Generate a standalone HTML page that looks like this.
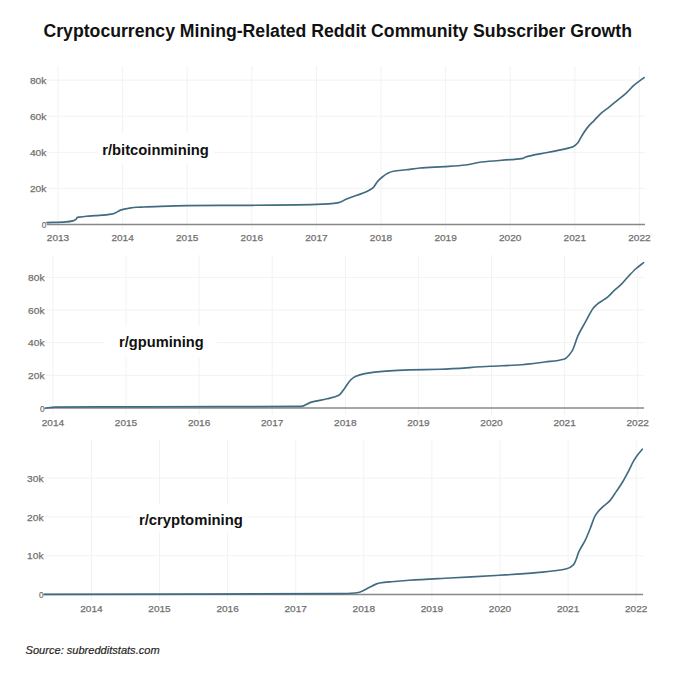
<!DOCTYPE html>
<html><head><meta charset="utf-8"><style>
html,body{margin:0;padding:0;background:#fff;width:680px;height:681px;overflow:hidden}
svg{display:block}
text{font-family:"Liberation Sans",sans-serif}
.title{font-size:17.5px;font-weight:bold;fill:#111}
.tk{font-size:9.6px;fill:#707070;stroke:#707070;stroke-width:0.25px}
.lab{font-weight:bold;fill:#111}
.src{font-size:11.5px;font-style:italic;fill:#262626;stroke:#262626;stroke-width:0.2px}
</style></head><body>
<svg width="680" height="681" viewBox="0 0 680 681">
<rect width="680" height="681" fill="#fff"/>
<text x="43.5" y="36.8" class="title" textLength="588.5" lengthAdjust="spacingAndGlyphs">Cryptocurrency Mining-Related Reddit Community Subscriber Growth</text>
<line x1="58.0" y1="66" x2="58.0" y2="229.5" stroke="#f2f2f2" stroke-width="1"/>
<line x1="122.6" y1="66" x2="122.6" y2="229.5" stroke="#f2f2f2" stroke-width="1"/>
<line x1="187.2" y1="66" x2="187.2" y2="229.5" stroke="#f2f2f2" stroke-width="1"/>
<line x1="251.8" y1="66" x2="251.8" y2="229.5" stroke="#f2f2f2" stroke-width="1"/>
<line x1="316.4" y1="66" x2="316.4" y2="229.5" stroke="#f2f2f2" stroke-width="1"/>
<line x1="381.0" y1="66" x2="381.0" y2="229.5" stroke="#f2f2f2" stroke-width="1"/>
<line x1="445.6" y1="66" x2="445.6" y2="229.5" stroke="#f2f2f2" stroke-width="1"/>
<line x1="510.2" y1="66" x2="510.2" y2="229.5" stroke="#f2f2f2" stroke-width="1"/>
<line x1="574.8" y1="66" x2="574.8" y2="229.5" stroke="#f2f2f2" stroke-width="1"/>
<line x1="639.4" y1="66" x2="639.4" y2="229.5" stroke="#f2f2f2" stroke-width="1"/>
<line x1="47" y1="188.4" x2="645" y2="188.4" stroke="#f2f2f2" stroke-width="1"/>
<line x1="47" y1="152.3" x2="645" y2="152.3" stroke="#f2f2f2" stroke-width="1"/>
<line x1="47" y1="116.2" x2="645" y2="116.2" stroke="#f2f2f2" stroke-width="1"/>
<line x1="47" y1="80.1" x2="645" y2="80.1" stroke="#f2f2f2" stroke-width="1"/>
<rect x="96.5" y="133" width="117.5" height="30.5" fill="#fff"/>
<line x1="47" y1="224.5" x2="645" y2="224.5" stroke="#888" stroke-width="1.3"/>
<path d="M47.00,222.60 C53.33,222.37 59.67,222.31 66.00,221.90 C68.30,221.75 70.60,221.46 72.90,220.90 C73.90,220.66 74.90,220.21 75.90,219.40 C76.30,219.08 76.70,217.76 77.10,217.60 C77.87,217.28 78.63,217.23 79.40,217.10 C81.77,216.70 84.13,216.41 86.50,216.20 C89.50,215.93 92.50,215.83 95.50,215.60 C100.87,215.19 106.23,214.98 111.60,214.10 C113.07,213.86 114.53,213.22 116.00,212.60 C117.50,211.97 119.00,210.59 120.50,210.10 C122.93,209.31 125.37,208.93 127.80,208.50 C130.73,207.98 133.67,207.33 136.60,207.20 C139.07,207.09 141.53,207.07 144.00,207.00 C158.33,206.59 172.67,205.72 187.00,205.60 C208.60,205.42 230.20,205.45 251.80,205.30 C273.47,205.15 295.13,204.98 316.80,204.40 C324.13,204.20 331.47,203.75 338.80,202.60 C341.20,202.22 343.60,200.33 346.00,199.30 C353.60,196.05 361.20,194.29 368.80,190.40 C370.27,189.65 371.73,188.89 373.20,187.60 C374.67,186.31 376.13,183.05 377.60,181.40 C379.37,179.41 381.13,177.88 382.90,176.50 C384.67,175.12 386.43,173.67 388.20,172.90 C389.97,172.13 391.73,171.52 393.50,171.20 C397.63,170.46 401.77,170.29 405.90,169.80 C410.60,169.24 415.30,168.39 420.00,168.00 C428.13,167.33 436.27,167.13 444.40,166.60 C451.47,166.14 458.53,165.78 465.60,165.00 C470.90,164.42 476.20,162.63 481.50,162.00 C491.20,160.84 500.90,160.47 510.60,159.60 C514.73,159.23 518.87,159.22 523.00,158.40 C523.67,158.27 524.33,157.53 525.00,157.30 C532.53,154.67 540.07,154.11 547.60,152.50 C554.77,150.97 561.93,149.82 569.10,147.90 C570.57,147.51 572.03,147.18 573.50,146.50 C574.97,145.82 576.43,144.49 577.90,142.80 C579.13,141.38 580.37,138.20 581.60,136.20 C583.80,132.64 586.00,129.22 588.20,126.60 C590.17,124.25 592.13,122.64 594.10,120.60 C596.30,118.32 598.50,115.58 600.70,113.60 C603.40,111.16 606.10,109.45 608.80,107.30 C611.73,104.96 614.67,102.50 617.60,100.10 C620.57,97.67 623.53,95.50 626.50,92.80 C628.93,90.59 631.37,87.53 633.80,85.40 C637.23,82.40 640.67,80.20 644.10,77.60" fill="none" stroke="#416b80" stroke-width="1.65" stroke-linejoin="round" stroke-linecap="round"/>
<text x="46.3" y="228.1" text-anchor="end" class="tk" textLength="4.6" lengthAdjust="spacingAndGlyphs">0</text>
<text x="46.3" y="192.0" text-anchor="end" class="tk" textLength="16.4" lengthAdjust="spacingAndGlyphs">20k</text>
<text x="46.3" y="155.9" text-anchor="end" class="tk" textLength="16.4" lengthAdjust="spacingAndGlyphs">40k</text>
<text x="46.3" y="119.8" text-anchor="end" class="tk" textLength="16.4" lengthAdjust="spacingAndGlyphs">60k</text>
<text x="46.3" y="83.7" text-anchor="end" class="tk" textLength="16.4" lengthAdjust="spacingAndGlyphs">80k</text>
<text x="58.0" y="240.5" text-anchor="middle" class="tk" textLength="22.4" lengthAdjust="spacingAndGlyphs">2013</text>
<text x="122.6" y="240.5" text-anchor="middle" class="tk" textLength="22.4" lengthAdjust="spacingAndGlyphs">2014</text>
<text x="187.2" y="240.5" text-anchor="middle" class="tk" textLength="22.4" lengthAdjust="spacingAndGlyphs">2015</text>
<text x="251.8" y="240.5" text-anchor="middle" class="tk" textLength="22.4" lengthAdjust="spacingAndGlyphs">2016</text>
<text x="316.4" y="240.5" text-anchor="middle" class="tk" textLength="22.4" lengthAdjust="spacingAndGlyphs">2017</text>
<text x="381.0" y="240.5" text-anchor="middle" class="tk" textLength="22.4" lengthAdjust="spacingAndGlyphs">2018</text>
<text x="445.6" y="240.5" text-anchor="middle" class="tk" textLength="22.4" lengthAdjust="spacingAndGlyphs">2019</text>
<text x="510.2" y="240.5" text-anchor="middle" class="tk" textLength="22.4" lengthAdjust="spacingAndGlyphs">2020</text>
<text x="574.8" y="240.5" text-anchor="middle" class="tk" textLength="22.4" lengthAdjust="spacingAndGlyphs">2021</text>
<text x="639.4" y="240.5" text-anchor="middle" class="tk" textLength="22.4" lengthAdjust="spacingAndGlyphs">2022</text>
<text x="102.2" y="155.4" class="lab" textLength="106.6" lengthAdjust="spacingAndGlyphs" style="font-size:15px">r/bitcoinmining</text>
<line x1="52.9" y1="255" x2="52.9" y2="415" stroke="#f2f2f2" stroke-width="1"/>
<line x1="126.0" y1="255" x2="126.0" y2="415" stroke="#f2f2f2" stroke-width="1"/>
<line x1="199.1" y1="255" x2="199.1" y2="415" stroke="#f2f2f2" stroke-width="1"/>
<line x1="272.2" y1="255" x2="272.2" y2="415" stroke="#f2f2f2" stroke-width="1"/>
<line x1="345.3" y1="255" x2="345.3" y2="415" stroke="#f2f2f2" stroke-width="1"/>
<line x1="418.4" y1="255" x2="418.4" y2="415" stroke="#f2f2f2" stroke-width="1"/>
<line x1="491.5" y1="255" x2="491.5" y2="415" stroke="#f2f2f2" stroke-width="1"/>
<line x1="564.6" y1="255" x2="564.6" y2="415" stroke="#f2f2f2" stroke-width="1"/>
<line x1="637.7" y1="255" x2="637.7" y2="415" stroke="#f2f2f2" stroke-width="1"/>
<line x1="45.5" y1="375.3" x2="644" y2="375.3" stroke="#f2f2f2" stroke-width="1"/>
<line x1="45.5" y1="342.7" x2="644" y2="342.7" stroke="#f2f2f2" stroke-width="1"/>
<line x1="45.5" y1="310.0" x2="644" y2="310.0" stroke="#f2f2f2" stroke-width="1"/>
<line x1="45.5" y1="277.3" x2="644" y2="277.3" stroke="#f2f2f2" stroke-width="1"/>
<rect x="104.3" y="326.3" width="112.2" height="30.9" fill="#fff"/>
<line x1="45.5" y1="408.0" x2="644" y2="408.0" stroke="#888" stroke-width="1.3"/>
<path d="M45.10,408.20 C48.30,407.83 51.50,407.13 54.70,407.10 C83.13,406.84 111.57,406.88 140.00,406.80 C193.73,406.64 247.47,406.78 301.20,406.40 C304.33,406.38 307.47,403.33 310.60,402.40 C316.10,400.77 321.60,400.20 327.10,398.80 C331.00,397.81 334.90,397.30 338.80,395.30 C340.77,394.29 342.73,390.74 344.70,388.20 C346.67,385.66 348.63,381.89 350.60,380.00 C352.17,378.50 353.73,377.22 355.30,376.50 C358.43,375.07 361.57,374.17 364.70,373.60 C371.77,372.32 378.83,371.61 385.90,371.10 C393.73,370.54 401.57,370.14 409.40,369.90 C419.60,369.59 429.80,369.56 440.00,369.25 C456.67,368.75 473.33,367.10 490.00,366.25 C499.17,365.78 508.33,365.59 517.50,365.00 C526.67,364.41 535.83,363.15 545.00,362.00 C551.27,361.22 557.53,361.04 563.80,359.30 C566.53,358.54 569.27,355.14 572.00,351.10 C573.97,348.19 575.93,340.05 577.90,335.80 C580.47,330.25 583.03,326.33 585.60,321.70 C588.13,317.13 590.67,311.35 593.20,308.20 C594.57,306.50 595.93,305.21 597.30,304.10 C599.67,302.18 602.03,301.07 604.40,299.40 C605.57,298.58 606.73,297.78 607.90,296.80 C609.97,295.06 612.03,292.53 614.10,290.60 C616.47,288.39 618.83,286.73 621.20,284.40 C623.53,282.10 625.87,278.98 628.20,276.50 C630.87,273.67 633.53,270.84 636.20,268.50 C638.67,266.34 641.13,264.63 643.60,262.70" fill="none" stroke="#416b80" stroke-width="1.65" stroke-linejoin="round" stroke-linecap="round"/>
<text x="44.5" y="411.6" text-anchor="end" class="tk" textLength="4.6" lengthAdjust="spacingAndGlyphs">0</text>
<text x="44.5" y="378.9" text-anchor="end" class="tk" textLength="16.4" lengthAdjust="spacingAndGlyphs">20k</text>
<text x="44.5" y="346.3" text-anchor="end" class="tk" textLength="16.4" lengthAdjust="spacingAndGlyphs">40k</text>
<text x="44.5" y="313.6" text-anchor="end" class="tk" textLength="16.4" lengthAdjust="spacingAndGlyphs">60k</text>
<text x="44.5" y="280.9" text-anchor="end" class="tk" textLength="16.4" lengthAdjust="spacingAndGlyphs">80k</text>
<text x="52.9" y="426.1" text-anchor="middle" class="tk" textLength="22.4" lengthAdjust="spacingAndGlyphs">2014</text>
<text x="126.0" y="426.1" text-anchor="middle" class="tk" textLength="22.4" lengthAdjust="spacingAndGlyphs">2015</text>
<text x="199.1" y="426.1" text-anchor="middle" class="tk" textLength="22.4" lengthAdjust="spacingAndGlyphs">2016</text>
<text x="272.2" y="426.1" text-anchor="middle" class="tk" textLength="22.4" lengthAdjust="spacingAndGlyphs">2017</text>
<text x="345.3" y="426.1" text-anchor="middle" class="tk" textLength="22.4" lengthAdjust="spacingAndGlyphs">2018</text>
<text x="418.4" y="426.1" text-anchor="middle" class="tk" textLength="22.4" lengthAdjust="spacingAndGlyphs">2019</text>
<text x="491.5" y="426.1" text-anchor="middle" class="tk" textLength="22.4" lengthAdjust="spacingAndGlyphs">2020</text>
<text x="564.6" y="426.1" text-anchor="middle" class="tk" textLength="22.4" lengthAdjust="spacingAndGlyphs">2021</text>
<text x="637.7" y="426.1" text-anchor="middle" class="tk" textLength="22.4" lengthAdjust="spacingAndGlyphs">2022</text>
<text x="119.1" y="346.8" class="lab" textLength="84.5" lengthAdjust="spacingAndGlyphs" style="font-size:15px">r/gpumining</text>
<line x1="91.4" y1="440" x2="91.4" y2="601" stroke="#f2f2f2" stroke-width="1"/>
<line x1="159.5" y1="440" x2="159.5" y2="601" stroke="#f2f2f2" stroke-width="1"/>
<line x1="227.6" y1="440" x2="227.6" y2="601" stroke="#f2f2f2" stroke-width="1"/>
<line x1="295.7" y1="440" x2="295.7" y2="601" stroke="#f2f2f2" stroke-width="1"/>
<line x1="363.8" y1="440" x2="363.8" y2="601" stroke="#f2f2f2" stroke-width="1"/>
<line x1="431.9" y1="440" x2="431.9" y2="601" stroke="#f2f2f2" stroke-width="1"/>
<line x1="500.0" y1="440" x2="500.0" y2="601" stroke="#f2f2f2" stroke-width="1"/>
<line x1="568.1" y1="440" x2="568.1" y2="601" stroke="#f2f2f2" stroke-width="1"/>
<line x1="636.2" y1="440" x2="636.2" y2="601" stroke="#f2f2f2" stroke-width="1"/>
<line x1="44" y1="555.7" x2="643" y2="555.7" stroke="#f2f2f2" stroke-width="1"/>
<line x1="44" y1="516.9" x2="643" y2="516.9" stroke="#f2f2f2" stroke-width="1"/>
<line x1="44" y1="478.1" x2="643" y2="478.1" stroke="#f2f2f2" stroke-width="1"/>
<rect x="131.2" y="504.4" width="117.6" height="28.2" fill="#fff"/>
<line x1="44" y1="594.5" x2="643" y2="594.5" stroke="#888" stroke-width="1.3"/>
<path d="M44.10,594.40 C142.73,594.13 241.37,594.28 340.00,593.60 C345.00,593.57 350.00,593.37 355.00,593.00 C356.50,592.89 358.00,592.57 359.50,592.20 C362.50,591.46 365.50,589.26 368.50,587.80 C371.20,586.49 373.90,584.79 376.60,583.90 C377.73,583.53 378.87,583.19 380.00,583.00 C383.93,582.34 387.87,582.07 391.80,581.70 C397.67,581.15 403.53,580.70 409.40,580.30 C422.93,579.38 436.47,578.75 450.00,578.00 C466.57,577.08 483.13,576.34 499.70,575.30 C512.07,574.53 524.43,573.76 536.80,572.60 C546.77,571.67 556.73,571.21 566.70,568.80 C568.93,568.26 571.17,567.08 573.40,564.90 C574.27,564.05 575.13,561.83 576.00,559.80 C576.83,557.85 577.67,554.55 578.50,552.60 C579.37,550.57 580.23,549.11 581.10,547.50 C582.47,544.96 583.83,543.04 585.20,540.30 C586.90,536.89 588.60,532.39 590.30,528.20 C591.90,524.26 593.50,518.76 595.10,515.90 C596.13,514.05 597.17,512.73 598.20,511.50 C599.97,509.40 601.73,507.83 603.50,506.20 C605.57,504.29 607.63,503.11 609.70,500.90 C611.77,498.69 613.83,495.13 615.90,492.10 C618.23,488.68 620.57,485.38 622.90,481.50 C624.67,478.56 626.43,475.18 628.20,471.80 C629.97,468.42 631.73,464.24 633.50,461.20 C634.97,458.67 636.43,456.47 637.90,454.50 C639.37,452.53 640.83,450.97 642.30,449.20" fill="none" stroke="#416b80" stroke-width="1.65" stroke-linejoin="round" stroke-linecap="round"/>
<text x="43.5" y="598.1" text-anchor="end" class="tk" textLength="4.6" lengthAdjust="spacingAndGlyphs">0</text>
<text x="43.5" y="559.3" text-anchor="end" class="tk" textLength="16.4" lengthAdjust="spacingAndGlyphs">10k</text>
<text x="43.5" y="520.5" text-anchor="end" class="tk" textLength="16.4" lengthAdjust="spacingAndGlyphs">20k</text>
<text x="43.5" y="481.7" text-anchor="end" class="tk" textLength="16.4" lengthAdjust="spacingAndGlyphs">30k</text>
<text x="91.4" y="612.2" text-anchor="middle" class="tk" textLength="22.4" lengthAdjust="spacingAndGlyphs">2014</text>
<text x="159.5" y="612.2" text-anchor="middle" class="tk" textLength="22.4" lengthAdjust="spacingAndGlyphs">2015</text>
<text x="227.6" y="612.2" text-anchor="middle" class="tk" textLength="22.4" lengthAdjust="spacingAndGlyphs">2016</text>
<text x="295.7" y="612.2" text-anchor="middle" class="tk" textLength="22.4" lengthAdjust="spacingAndGlyphs">2017</text>
<text x="363.8" y="612.2" text-anchor="middle" class="tk" textLength="22.4" lengthAdjust="spacingAndGlyphs">2018</text>
<text x="431.9" y="612.2" text-anchor="middle" class="tk" textLength="22.4" lengthAdjust="spacingAndGlyphs">2019</text>
<text x="500.0" y="612.2" text-anchor="middle" class="tk" textLength="22.4" lengthAdjust="spacingAndGlyphs">2020</text>
<text x="568.1" y="612.2" text-anchor="middle" class="tk" textLength="22.4" lengthAdjust="spacingAndGlyphs">2021</text>
<text x="636.2" y="612.2" text-anchor="middle" class="tk" textLength="22.4" lengthAdjust="spacingAndGlyphs">2022</text>
<text x="138.9" y="525.1" class="lab" textLength="104" lengthAdjust="spacingAndGlyphs" style="font-size:15px">r/cryptomining</text>
<text x="25.6" y="654.2" class="src" textLength="134" lengthAdjust="spacingAndGlyphs">Source: subredditstats.com</text>
</svg>
</body></html>
